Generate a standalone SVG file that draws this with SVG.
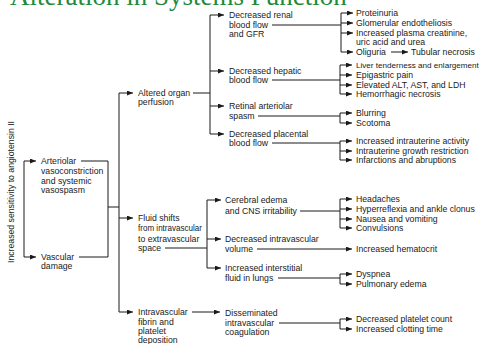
<svg xmlns="http://www.w3.org/2000/svg" width="485" height="344" viewBox="0 0 485 344">
<style>
text{font-family:"Liberation Sans",Arial,sans-serif;font-size:8.7px;fill:#1a1a1a}
.title{font-family:"Liberation Serif","Times New Roman",serif;font-size:27px;fill:#1f8a3a}
.c line,.c path{stroke:#1a1a1a;stroke-width:1;fill:none}
.a{marker-end:url(#ah)}
</style>
<defs>
<marker id="ah" markerUnits="userSpaceOnUse" markerWidth="6" markerHeight="5" refX="6" refY="2.5" orient="auto">
<path d="M0,0 L6,2.5 L0,5 z" fill="#1a1a1a"/>
</marker>
</defs>
<rect width="485" height="344" fill="#fff"/>
<text class="title" x="10" y="4.5">Alteration in Systems Function</text>

<g class="c" id="connectors">
<line x1="24" y1="161" x2="24" y2="257"/>
<line class="a" x1="24" y1="161" x2="36" y2="161"/>
<line class="a" x1="24" y1="257" x2="36" y2="257"/>
<path d="M81,161 H108 V257 H79"/>
<line x1="108" y1="207" x2="119" y2="207"/>
<line x1="119" y1="93" x2="119" y2="312"/>
<line class="a" x1="119" y1="93" x2="133" y2="93"/>
<line class="a" x1="119" y1="218" x2="133" y2="218"/>
<line class="a" x1="119" y1="312" x2="133" y2="312"/>
<line x1="193" y1="93" x2="210" y2="93"/>
<line x1="210" y1="15" x2="210" y2="134"/>
<line class="a" x1="210" y1="15" x2="224" y2="15"/>
<line class="a" x1="210" y1="71" x2="224" y2="71"/>
<line class="a" x1="210" y1="106" x2="224" y2="106"/>
<line class="a" x1="210" y1="134" x2="224" y2="134"/>
<line x1="272" y1="25" x2="341" y2="25"/>
<line x1="341" y1="13" x2="341" y2="52"/>
<line class="a" x1="341" y1="13" x2="353" y2="13"/>
<line class="a" x1="341" y1="23" x2="353" y2="23"/>
<line class="a" x1="341" y1="33" x2="353" y2="33"/>
<line class="a" x1="341" y1="52" x2="353" y2="52"/>
<line class="a" x1="391" y1="52" x2="408" y2="52"/>
<line x1="272" y1="80" x2="340" y2="80"/>
<line x1="340" y1="65" x2="340" y2="94"/>
<line class="a" x1="340" y1="65" x2="352" y2="65"/>
<line class="a" x1="340" y1="75" x2="352" y2="75"/>
<line class="a" x1="340" y1="85" x2="352" y2="85"/>
<line class="a" x1="340" y1="94" x2="352" y2="94"/>
<line x1="258" y1="116" x2="340" y2="116"/>
<line x1="340" y1="113" x2="340" y2="123"/>
<line class="a" x1="340" y1="113" x2="352" y2="113"/>
<line class="a" x1="340" y1="123" x2="352" y2="123"/>
<line x1="272" y1="143" x2="340" y2="143"/>
<line x1="340" y1="141" x2="340" y2="160"/>
<line class="a" x1="340" y1="141" x2="352" y2="141"/>
<line class="a" x1="340" y1="151" x2="352" y2="151"/>
<line class="a" x1="340" y1="160" x2="352" y2="160"/>
<line x1="165" y1="248" x2="207" y2="248"/>
<line x1="207" y1="200" x2="207" y2="268"/>
<line class="a" x1="207" y1="200" x2="221" y2="200"/>
<line class="a" x1="207" y1="239" x2="221" y2="239"/>
<line class="a" x1="207" y1="268" x2="221" y2="268"/>
<line x1="300" y1="211" x2="340" y2="211"/>
<line x1="340" y1="199" x2="340" y2="228"/>
<line class="a" x1="340" y1="199" x2="352" y2="199"/>
<line class="a" x1="340" y1="209" x2="352" y2="209"/>
<line class="a" x1="340" y1="219" x2="352" y2="219"/>
<line class="a" x1="340" y1="228" x2="352" y2="228"/>
<line class="a" x1="257" y1="249" x2="352" y2="249"/>
<line x1="278" y1="278" x2="340" y2="278"/>
<line x1="340" y1="274" x2="340" y2="284"/>
<line class="a" x1="340" y1="274" x2="352" y2="274"/>
<line class="a" x1="340" y1="284" x2="352" y2="284"/>
<line class="a" x1="192" y1="312" x2="220" y2="312"/>
<line x1="279" y1="323" x2="340" y2="323"/>
<line x1="340" y1="319" x2="340" y2="329"/>
<line class="a" x1="340" y1="319" x2="352" y2="319"/>
<line class="a" x1="340" y1="329" x2="352" y2="329"/>
</g>

<g id="root"><text transform="translate(14,192) rotate(-90)" text-anchor="middle">Increased sensitivity to angiotensin II</text></g>
<g id="arteriolar"><text x="41" y="164">Arteriolar</text><text x="41" y="174">vasoconstriction</text><text x="41" y="184">and systemic</text><text x="41" y="193">vasospasm</text></g>
<g id="vascular"><text x="41" y="260">Vascular</text><text x="41" y="269">damage</text></g>
<g id="altered"><text x="138" y="96">Altered organ</text><text x="138" y="105">perfusion</text></g>
<g id="fluid"><text x="138" y="221">Fluid shifts</text><text x="138" y="231" textLength="64" lengthAdjust="spacingAndGlyphs">from intravascular</text><text x="138" y="242">to extravascular</text><text x="138" y="251">space</text></g>
<g id="fibrin"><text x="138" y="315">Intravascular</text><text x="138" y="325">fibrin and</text><text x="138" y="334">platelet</text><text x="138" y="343">deposition</text></g>
<g id="renal"><text x="229" y="18">Decreased renal</text><text x="229" y="28">blood flow</text><text x="229" y="37">and GFR</text></g>
<g id="hepatic"><text x="229" y="74">Decreased hepatic</text><text x="229" y="83">blood flow</text></g>
<g id="retinal"><text x="229" y="109">Retinal arteriolar</text><text x="229" y="119">spasm</text></g>
<g id="placental"><text x="229" y="137">Decreased placental</text><text x="229" y="146">blood flow</text></g>
<g id="cerebral"><text x="225" y="203">Cerebral edema</text><text x="225" y="214">and CNS irritability</text></g>
<g id="volume"><text x="225" y="242">Decreased intravascular</text><text x="225" y="252">volume</text></g>
<g id="lungs"><text x="225" y="271">Increased interstitial</text><text x="225" y="281">fluid in lungs</text></g>
<g id="dic"><text x="225" y="316">Disseminated</text><text x="225" y="326">intravascular</text><text x="225" y="335">coagulation</text></g>
<g id="renal-out"><text x="356" y="16">Proteinuria</text><text x="356" y="26">Glomerular endotheliosis</text><text x="356" y="36">Increased plasma creatinine,</text><text x="356" y="45">uric acid and urea</text><text x="356" y="55">Oliguria</text></g>
<g id="tubular"><text x="411" y="55">Tubular necrosis</text></g>
<g id="hepatic-out"><text x="356" y="68" style="font-size:8.1px">Liver tenderness and enlargement</text><text x="356" y="78">Epigastric pain</text><text x="356" y="88">Elevated ALT, AST, and LDH</text><text x="356" y="97">Hemorrhagic necrosis</text></g>
<g id="retinal-out"><text x="356" y="116">Blurring</text><text x="356" y="126">Scotoma</text></g>
<g id="placental-out"><text x="356" y="144">Increased intrauterine activity</text><text x="356" y="154">Intrauterine growth restriction</text><text x="356" y="163">Infarctions and abruptions</text></g>
<g id="cerebral-out"><text x="356" y="202">Headaches</text><text x="356" y="212">Hyperreflexia and ankle clonus</text><text x="356" y="222">Nausea and vomiting</text><text x="356" y="231">Convulsions</text></g>
<g id="hematocrit"><text x="356" y="252">Increased hematocrit</text></g>
<g id="lungs-out"><text x="356" y="277">Dyspnea</text><text x="356" y="287">Pulmonary edema</text></g>
<g id="dic-out"><text x="356" y="322">Decreased platelet count</text><text x="356" y="332">Increased clotting time</text></g>
</svg>
